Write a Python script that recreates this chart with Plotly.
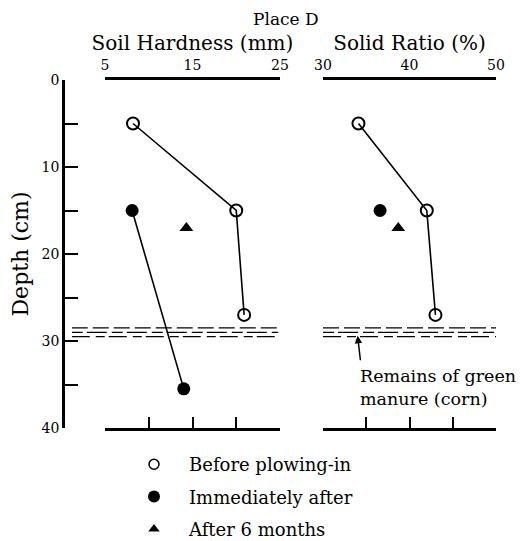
import plotly.graph_objects as go

# ---------------- data ----------------
depth_before = [5, 15, 27]
hardness_before = [8.2, 20.0, 20.9]
solid_before = [34.1, 42.0, 43.0]

depth_immediate_hardness = [15, 35.5]
hardness_immediate = [8.1, 14.0]
depth_immediate_solid = [15]
solid_immediate = [36.6]

depth_6months = [17]
hardness_6months = [14.3]
solid_6months = [38.7]

layer_depths = [28.5, 29.0, 29.5]
layer_dashes = ["16px,5px", "11px,4px,20px,5px", "18px,6px,9px,4px"]
layer_hardness_extent = [1.2, 24.8]
layer_solid_extent = [30.0, 50.0]

hardness_ticks = [5, 10, 15, 20, 25]
hardness_labels = [5, 15, 25]
solid_ticks = [30, 35, 40, 45, 50]
solid_labels = [30, 40, 50]
depth_ticks = [0, 5, 10, 15, 20, 25, 30, 35, 40]
depth_ticktext = ["0", "", "10", "", "20", "", "30", "", "40"]

legend_names = ["Before plowing-in", "Immediately after", "After 6 months"]

# ---------------- layout geometry (screen pixels) ----------------
# the page body has an 8px margin, so the figure is drawn offset by 8px
OFF = 8
W, H = 524 - OFF, 541 - OFF
FONT = "DejaVu Serif"


def px(x):
    return (x - OFF) / W


def py(y):
    return 1 - (y - OFF) / H


left_dom = [px(105), px(280)]
right_dom = [px(323), px(496)]
layer_left_dom = [px(72), px(280)]
y_dom = [py(428), py(80)]

hard_range = [5, 25]
solid_range = [30, 50]
unit_px = (280 - 105) / (hard_range[1] - hard_range[0])
layer_range = [hard_range[0] - (105 - 72) / unit_px, hard_range[1]]

fig = go.Figure()

open_marker = dict(symbol="circle-open", size=12, color="black", line=dict(width=2, color="black"))
filled_marker = dict(symbol="circle", size=13, color="black")
tri_marker = dict(symbol="triangle-up", size=12, color="black")
line_style = dict(color="black", width=1.6)

# green manure layers
for d, dash in zip(layer_depths, layer_dashes):
    fig.add_trace(go.Scatter(x=layer_hardness_extent, y=[d, d], xaxis="x7", yaxis="y",
                             mode="lines", line=dict(color="black", width=1.3, dash=dash),
                             showlegend=False, hoverinfo="skip"))
    fig.add_trace(go.Scatter(x=layer_solid_extent, y=[d, d], xaxis="x2", yaxis="y",
                             mode="lines", line=dict(color="black", width=1.3, dash=dash),
                             showlegend=False, hoverinfo="skip", cliponaxis=False))

# left panel: soil hardness
fig.add_trace(go.Scatter(x=hardness_before, y=depth_before, xaxis="x", yaxis="y",
                         mode="lines+markers", line=line_style, marker=open_marker,
                         showlegend=False, cliponaxis=False))
fig.add_trace(go.Scatter(x=hardness_immediate, y=depth_immediate_hardness, xaxis="x", yaxis="y",
                         mode="lines+markers", line=line_style, marker=filled_marker,
                         showlegend=False, cliponaxis=False))
fig.add_trace(go.Scatter(x=hardness_6months, y=depth_6months, xaxis="x", yaxis="y",
                         mode="markers", marker=tri_marker, showlegend=False, cliponaxis=False))

# right panel: solid ratio
fig.add_trace(go.Scatter(x=solid_before, y=depth_before, xaxis="x2", yaxis="y",
                         mode="lines+markers", line=line_style, marker=open_marker,
                         showlegend=False, cliponaxis=False))
fig.add_trace(go.Scatter(x=solid_immediate, y=depth_immediate_solid, xaxis="x2", yaxis="y",
                         mode="markers", marker=filled_marker, showlegend=False, cliponaxis=False))
fig.add_trace(go.Scatter(x=solid_6months, y=depth_6months, xaxis="x2", yaxis="y",
                         mode="markers", marker=tri_marker, showlegend=False, cliponaxis=False))

# empty traces so that the top (overlay) axes get drawn
for ax in ["x3", "x4", "x5", "x6"]:
    fig.add_trace(go.Scatter(x=[None], y=[None], xaxis=ax, yaxis="y", mode="markers",
                             showlegend=False, hoverinfo="skip"))

# legend entries
for name, mk, grp in zip(legend_names,
                         [dict(symbol="circle-open", size=10, color="black", line=dict(width=1.5, color="black")),
                          dict(symbol="circle", size=12, color="black"),
                          dict(symbol="triangle-up", size=10, color="black")],
                         ["a", "b", "c"]):
    fig.add_trace(go.Scatter(x=[None], y=[None], xaxis="x", yaxis="y", mode="markers",
                             marker=mk, name=name, legendgroup=grp, showlegend=True))

axis_line = dict(showline=True, linecolor="black", linewidth=2.5, showgrid=False, zeroline=False,
                 automargin=False)
tick_font = dict(family=FONT, size=14, color="black")
title_font = dict(family=FONT, size=20, color="black")

fig.update_layout(
    width=W, height=H,
    margin=dict(l=0, r=0, t=0, b=0, autoexpand=False),
    paper_bgcolor="white", plot_bgcolor="rgba(0,0,0,0)",
    font=dict(family=FONT, color="black"),
    yaxis=dict(domain=y_dom, range=[40, 0], anchor="free", position=px(63),
               tickvals=depth_ticks, ticktext=depth_ticktext, ticks="inside", ticklen=13,
               tickwidth=2, tickcolor="black", tickfont=tick_font,
               title=dict(text="Depth (cm)", font=dict(family=FONT, size=22, color="black"), standoff=6),
               **axis_line),
    # left panel
    xaxis=dict(domain=left_dom, range=hard_range, anchor="y", side="bottom",
               tickvals=hardness_ticks, ticks="inside", ticklen=11, tickwidth=2, tickcolor="black",
               showticklabels=False, **axis_line),
    xaxis3=dict(domain=left_dom, range=hard_range, anchor="y", overlaying="x", side="top",
                tickvals=[hard_range[0], hard_range[1]], ticks="inside", ticklen=13, tickwidth=2,
                tickcolor="black", showticklabels=False, **axis_line),
    xaxis5=dict(domain=left_dom, range=hard_range, anchor="y", overlaying="x", side="top",
                tickvals=hardness_labels, ticks="", showticklabels=True, tickfont=tick_font,
                ticklabelstandoff=6,
                showline=False, showgrid=False, zeroline=False, automargin=False,
                title=dict(text="Soil Hardness (mm)", font=title_font, standoff=1)),
    xaxis7=dict(domain=layer_left_dom, range=layer_range, anchor="y", visible=False),
    # right panel
    xaxis2=dict(domain=right_dom, range=solid_range, anchor="y", side="bottom",
                tickvals=solid_ticks, ticks="inside", ticklen=11, tickwidth=2, tickcolor="black",
                showticklabels=False, **axis_line),
    xaxis4=dict(domain=right_dom, range=solid_range, anchor="y", overlaying="x2", side="top",
                tickvals=[solid_range[0], solid_range[1]], ticks="inside", ticklen=13, tickwidth=2,
                tickcolor="black", showticklabels=False, **axis_line),
    xaxis6=dict(domain=right_dom, range=solid_range, anchor="y", overlaying="x2", side="top",
                tickvals=solid_labels, ticks="", showticklabels=True, tickfont=tick_font,
                ticklabelstandoff=6,
                showline=False, showgrid=False, zeroline=False, automargin=False,
                title=dict(text="Solid Ratio (%)", font=title_font, standoff=1)),
    legend=dict(x=px(119), y=py(446), xanchor="left", yanchor="top",
                font=dict(family=FONT, size=18, color="black"),
                itemwidth=60, tracegroupgap=6, bgcolor="rgba(0,0,0,0)"),
    showlegend=True,
)

# figure title as a paper annotation (exact placement)
fig.add_annotation(x=px(286), y=py(8), xref="paper", yref="paper", text="Place D",
                   showarrow=False, xanchor="center", yanchor="top", borderpad=0,
                   font=dict(family=FONT, size=17, color="black"))

# annotation: remains of green manure
fig.add_annotation(x=34.0, y=29.4, xref="x2", yref="y", text="", showarrow=True,
                   ax=3, ay=26, arrowhead=2, arrowsize=1, arrowwidth=1.5, arrowcolor="black",
                   standoff=0)
fig.add_annotation(x=34.0, y=32.7, xref="x2", yref="y",
                   text="Remains of green<br>manure (corn)", showarrow=False,
                   xanchor="left", yanchor="top", align="left",
                   font=dict(family=FONT, size=17.5, color="black"))

fig.write_html("out.html")
